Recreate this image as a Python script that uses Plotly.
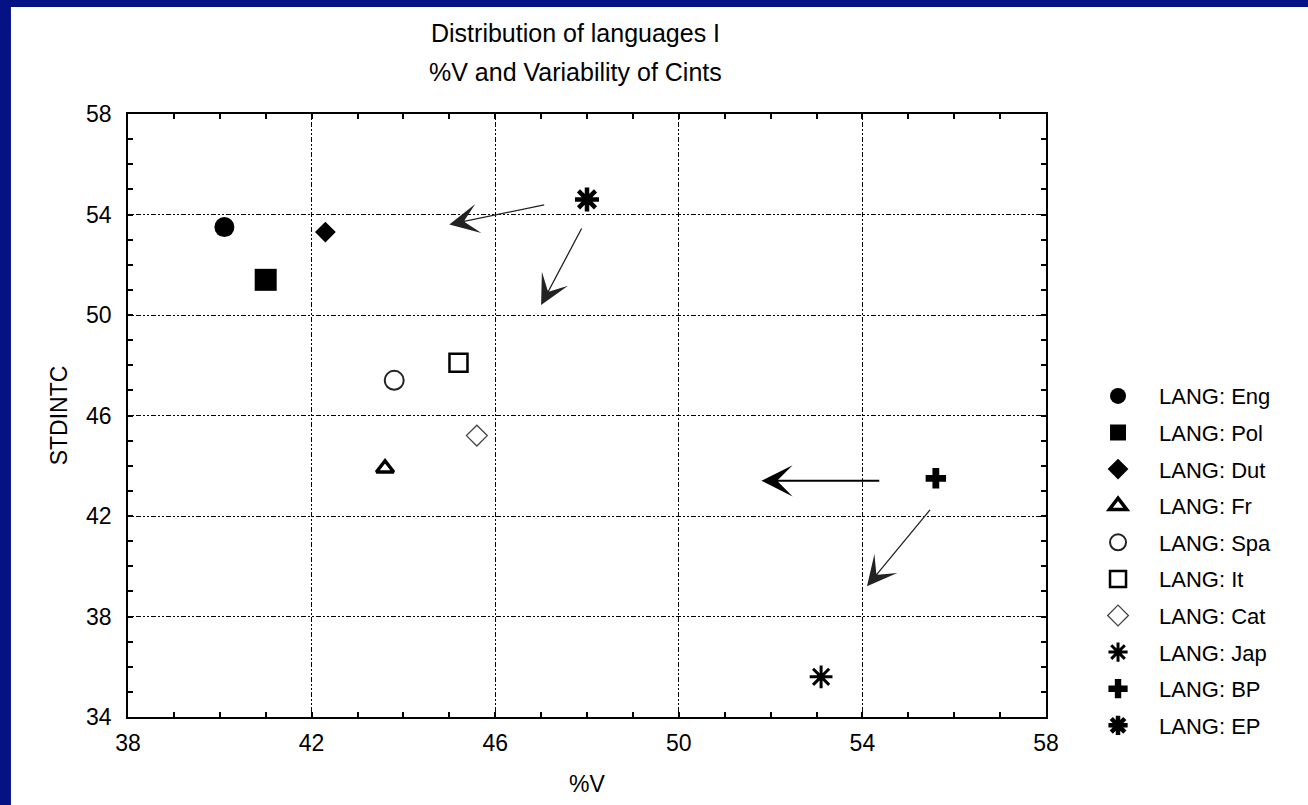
import plotly.graph_objects as go

# Data
languages = ["Eng", "Pol", "Dut", "Fr", "Spa", "It", "Cat", "Jap", "BP", "EP"]
pct_v = [40.1, 41.0, 42.3, 43.6, 43.8, 45.2, 45.6, 53.1, 55.6, 48.0]
stdintc = [53.5, 51.4, 53.3, 43.9, 47.4, 48.1, 45.2, 35.6, 43.5, 54.6]

# arrows: (tail_x, tail_y) -> (head_x, head_y)
arrow_tail_x = [47.1, 47.9, 54.4, 55.5]
arrow_tail_y = [54.4, 53.5, 43.4, 42.3]
arrow_head_x = [45.0, 47.0, 51.8, 54.1]
arrow_head_y = [53.6, 50.4, 43.4, 39.2]

x_ticks = [38, 42, 46, 50, 54, 58]
y_ticks = [34, 38, 42, 46, 50, 54, 58]

title_line1 = "Distribution of languages I"
title_line2 = "%V and Variability of Cints"

# marker styling per language
symbols = ["circle", "square", "diamond", "triangle-up-open", "circle-open",
           "square-open", "diamond-open", "asterisk-open", "cross", "asterisk-open"]
sizes = [20, 22, 16, 15, 19, 18, 16, 19, 17, 20]
line_w = [0, 0, 0, 3.5, 2.0, 2.5, 1.3, 3.0, 0, 4.5]
colors = ["black", "black", "black", "black", "#222222", "black", "#444444",
          "black", "black", "black"]

font_family = "Liberation Sans, Arial, sans-serif"

fig = go.Figure()
for i, lang in enumerate(languages):
    fig.add_trace(go.Scatter(
        x=[pct_v[i]], y=[stdintc[i]], mode="markers",
        name="LANG: " + lang, legendgroup=lang,
        marker=dict(symbol=symbols[i], size=sizes[i], color=colors[i],
                    line=dict(width=line_w[i], color=colors[i])),
    ))

arrow_widths = [1.3, 1.3, 2.0, 1.3]
arrow_colors = ["#222222", "#222222", "black", "#222222"]
arrow_sizes = [3.8, 3.8, 2.6, 3.8]
for i in range(len(arrow_tail_x)):
    fig.add_annotation(
        x=arrow_head_x[i], y=arrow_head_y[i],
        ax=arrow_tail_x[i], ay=arrow_tail_y[i],
        xref="x", yref="y", axref="x", ayref="y",
        text="", showarrow=True, arrowhead=3,
        arrowwidth=arrow_widths[i], arrowsize=arrow_sizes[i],
        arrowcolor=arrow_colors[i],
    )

# two-line title
fig.add_annotation(text=title_line1, xref="paper", yref="paper",
                   x=0.487, y=1.134, xanchor="center", yanchor="middle",
                   showarrow=False, font=dict(size=25, color="black", family=font_family))
fig.add_annotation(text=title_line2, xref="paper", yref="paper",
                   x=0.487, y=1.0697, xanchor="center", yanchor="middle",
                   showarrow=False, font=dict(size=25, color="black", family=font_family))

# white page area over the navy background
fig.add_shape(type="rect", xref="paper", yref="paper",
              x0=-0.1275, x1=1.35, y0=-0.2, y1=1.1774,
              fillcolor="white", line=dict(width=0), layer="below")

axis_common = dict(
    showline=True, linecolor="black", linewidth=1.6, mirror="ticks",
    showgrid=True, gridcolor="black", gridwidth=1,
    griddash="2px,2px,2px,2px,5px,2px",
    ticks="inside", ticklen=5, tickcolor="black", tickwidth=1.6,
    minor=dict(dtick=1, ticks="inside", ticklen=5, tickcolor="black",
               tickwidth=1.6, showgrid=False),
    zeroline=False,
    tickfont=dict(size=23, color="black", family=font_family),
)

fig.update_layout(
    width=1308, height=805,
    margin=dict(l=128, r=262, t=114, b=88),
    paper_bgcolor="#041283",
    plot_bgcolor="white",
    xaxis=dict(range=[38, 58], tickvals=x_ticks, ticklabelstandoff=5,
               title=dict(text="%V", font=dict(size=23, color="black", family=font_family),
                          standoff=20),
               **axis_common),
    yaxis=dict(range=[34, 58], tickvals=y_ticks, ticklabelstandoff=10,
               title=dict(text="STDINTC", font=dict(size=23, color="black", family=font_family),
                          standoff=12),
               **axis_common),
    legend=dict(x=1.0338, xanchor="left", y=0.567, yanchor="top",
                font=dict(size=22, color="black", family=font_family),
                bgcolor="rgba(0,0,0,0)", tracegroupgap=5, itemsizing="trace",
                itemwidth=72),
    showlegend=True,
)

fig.write_html("out.html", config={"displayModeBar": False},
               post_script="document.body.style.margin='0';document.body.style.background='#041283';")
